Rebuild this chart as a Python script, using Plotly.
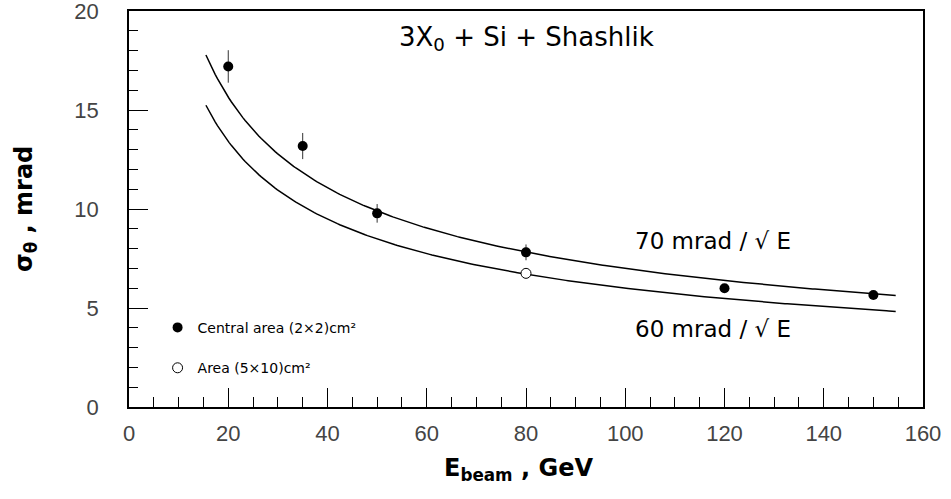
import numpy as np
import plotly.graph_objects as go

# ---- data ----
E_central = [20, 35, 50, 80, 120, 150]
sigma_central = [17.2, 13.18, 9.78, 7.81, 6.0, 5.66]
err_central = [0.82, 0.66, 0.47, 0.4, 0.0, 0.0]

E_area = [80]
sigma_area = [6.75]

fit_coefs = [70, 60]          # mrad / sqrt(E)
fit_E_min, fit_E_max = 15.5, 154.5

x_ticks = [0, 20, 40, 60, 80, 100, 120, 140, 160]
y_ticks = [0, 5, 10, 15, 20]

E_grid = np.linspace(fit_E_min, fit_E_max, 300)

fig = go.Figure()

for c in fit_coefs:
    fig.add_trace(go.Scatter(x=E_grid, y=c / np.sqrt(E_grid), mode="lines",
                             line=dict(color="black", width=1.5), showlegend=False,
                             hoverinfo="skip"))

fig.add_trace(go.Scatter(
    x=E_central, y=sigma_central, mode="markers",
    marker=dict(color="black", size=10),
    error_y=dict(type="data", array=err_central, width=0, color="#333", thickness=1),
    name="Central area (2\u00d72)cm\u00b2", legend="legend"))

fig.add_trace(go.Scatter(
    x=E_area, y=sigma_area, mode="markers",
    marker=dict(color="white", size=10, line=dict(color="black", width=1)),
    name="Area (5\u00d710)cm\u00b2", legend="legend2"))

tickfont = dict(family="Liberation Sans", size=22, color="#444")
axis_common = dict(showline=True, linecolor="black", linewidth=1.5, mirror=True,
                   ticks="inside", tickcolor="black", tickwidth=1, automargin=False,
                   ticklabeloverflow="allow",
                   showgrid=False, zeroline=False, tickfont=tickfont)

fig.update_xaxes(range=[0, 160], tickvals=x_ticks, ticklen=19,
                 minor=dict(ticks="inside", ticklen=10, dtick=5, tickcolor="black"),
                 ticklabelstandoff=6, **axis_common)
fig.update_yaxes(range=[0, 20], tickvals=y_ticks, ticklen=19,
                 minor=dict(ticks="inside", ticklen=9, dtick=1, tickcolor="black"),
                 ticklabelstandoff=24, **axis_common)

def ann(**kw):
    kw.setdefault("showarrow", False)
    kw.setdefault("xanchor", "center")
    kw.setdefault("yanchor", "middle")
    fig.add_annotation(**kw)

blk = "black"
ann(x=0.5, y=18.62, xref="paper", yref="y",
    text="3X<sub>0</sub> + Si + Shashlik",
    font=dict(family="DejaVu Sans", size=26, color=blk))
ann(x=117.7, y=8.38, text="70 mrad / \u221a E",
    font=dict(family="DejaVu Sans", size=23, color=blk))
ann(x=117.7, y=3.94, text="60 mrad / \u221a E",
    font=dict(family="DejaVu Sans", size=23, color=blk))
ann(x=0.49, y=-0.159, xref="paper", yref="paper",
    text="<b>E<sub>beam</sub> , GeV</b>",
    font=dict(family="DejaVu Sans", size=24, color=blk))
ann(x=-0.131, y=0.5, xref="paper", yref="paper", textangle=-90,
    text="<b>\u03c3<sub>\u03b8</sub> , mrad</b>",
    font=dict(family="DejaVu Sans", size=24, color=blk))

legfont = dict(family="DejaVu Sans", size=14, color="black")
fig.update_layout(
    width=951, height=499,
    margin=dict(l=129, r=28, t=11, b=92),
    plot_bgcolor="white", paper_bgcolor="white",
    legend=dict(x=0.036, y=0.20, xanchor="left", yanchor="middle",
                font=legfont, bgcolor="rgba(0,0,0,0)", itemwidth=30),
    legend2=dict(x=0.036, y=0.098, xanchor="left", yanchor="middle",
                 font=legfont, bgcolor="rgba(0,0,0,0)", itemwidth=30),
)

fig.write_html("out.html")
